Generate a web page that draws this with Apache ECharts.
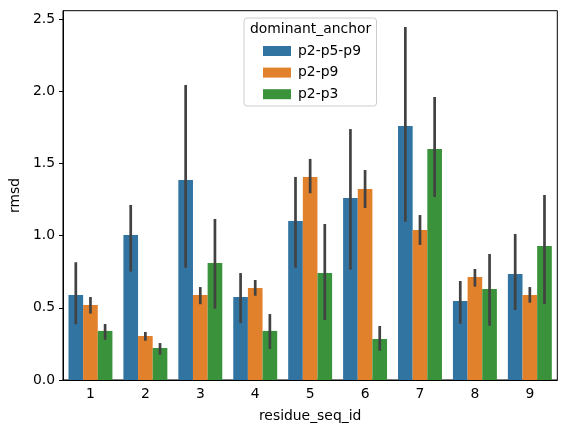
<!DOCTYPE html>
<html><head><meta charset="utf-8">
<script src="https://cdn.jsdelivr.net/npm/echarts@6/dist/echarts.min.js"></script>
<style>html,body{margin:0;padding:0;background:#fff}#c{width:567px;height:433px}</style>
</head><body><div id="c"></div>
<script>
const categories = ['1','2','3','4','5','6','7','8','9'];
const hueNames = ['p2-p5-p9','p2-p9','p2-p3'];
const blueVals   = [0.589, 1.005, 1.386, 0.575, 1.102, 1.261, 1.760, 0.547, 0.735];
const orangeVals = [0.520, 0.305, 0.589, 0.638, 1.407, 1.324, 1.040, 0.714, 0.589];
const greenVals  = [0.340, 0.222, 0.811, 0.340, 0.741, 0.284, 1.601, 0.631, 0.929];
const blueLo   = [0.386, 0.751, 0.778, 0.395, 0.778, 0.765, 1.097, 0.390, 0.485];
const blueHi   = [0.816, 1.213, 2.044, 0.741, 1.407, 1.739, 2.446, 0.686, 1.012];
const orangeLo = [0.460, 0.272, 0.525, 0.584, 1.294, 1.192, 0.936, 0.647, 0.536];
const orangeHi = [0.575, 0.333, 0.644, 0.693, 1.532, 1.455, 1.143, 0.769, 0.644];
const greenLo  = [0.279, 0.175, 0.494, 0.215, 0.416, 0.203, 1.268, 0.376, 0.527];
const greenHi  = [0.388, 0.256, 1.116, 0.457, 1.081, 0.374, 1.961, 0.873, 1.282];
const yTicks = [0, 0.5, 1.0, 1.5, 2.0, 2.5];

const colors = ['#3274a1', '#e1812c', '#3a923a'];
const vals = [blueVals, orangeVals, greenVals];
const los = [blueLo, orangeLo, greenLo];
const his = [blueHi, orangeHi, greenHi];
const FONT = 'DejaVu Sans';

const chart = echarts.init(document.getElementById('c'), null, {renderer: 'canvas'});
const series = [];
for (let k = 0; k < 3; k++) {
  series.push({
    name: hueNames[k], type: 'bar', data: vals[k],
    barWidth: '26.667%', barGap: '0%',
    itemStyle: {color: colors[k]}, z: 2
  });
}
for (let k = 0; k < 3; k++) {
  series.push({
    type: 'custom', name: 'err' + k, z: 5,
    data: categories.map((c, i) => [i, los[k][i], his[k][i]]),
    encode: {x: 0, y: [1, 2]},
    renderItem: function (params, api) {
      const xi = api.value(0);
      const lo = api.coord([xi, api.value(1)]);
      const hi = api.coord([xi, api.value(2)]);
      const band = api.size([1, 0])[0];
      const bw = band * 0.8 / 3;
      const off = (k - 1) * bw;
      return {type: 'line', shape: {x1: lo[0] + off, y1: lo[1], x2: hi[0] + off, y2: hi[1]},
              style: {stroke: '#424242', lineWidth: 2.7}};
    }
  });
}

chart.setOption({
  animation: false,
  grid: {left: 61.5, right: 9.7, top: 10.7, bottom: 53, show: true, borderColor: '#000', borderWidth: 1, backgroundColor: 'transparent'},
  xAxis: {
    type: 'category', data: categories,
    name: 'residue_seq_id', nameLocation: 'middle', nameGap: 29,
    nameTextStyle: {fontFamily: FONT, fontSize: 13.9, color: '#000'},
    axisLine: {lineStyle: {color: '#000', width: 1}},
    axisTick: {alignWithLabel: true, inside: false, length: 4, lineStyle: {color: '#000'}},
    axisLabel: {fontFamily: FONT, fontSize: 13.9, color: '#000', margin: 7},
    splitLine: {show: false}
  },
  yAxis: {
    type: 'value', min: 0, max: 2.559, interval: 0.5,
    name: 'rmsd', nameLocation: 'middle', nameGap: 36,
    nameTextStyle: {fontFamily: FONT, fontSize: 13.9, color: '#000'},
    axisLine: {show: true, lineStyle: {color: '#000', width: 1}},
    axisTick: {show: true, inside: false, length: 4, lineStyle: {color: '#000'},
      customValues: yTicks},
    axisLabel: {fontFamily: FONT, fontSize: 13.9, color: '#000', margin: 8,
      customValues: yTicks,
      formatter: v => v.toFixed(1)},
    splitLine: {show: false}
  },
  legend: {
    data: hueNames, orient: 'vertical', left: 258, top: 39,
    itemWidth: 28, itemHeight: 10, itemGap: 7.6, icon: 'rect',
    textStyle: {fontFamily: FONT, fontSize: 13.9, color: '#000', padding: [0, 0, 0, 2]},
    selectedMode: false
  },
  graphic: [
    {type: 'rect', left: 243.5, top: 17.5, z: 0,
     shape: {width: 132.5, height: 88, r: 3},
     style: {fill: 'rgba(255,255,255,0.8)', stroke: '#cccccc', lineWidth: 1}},
    {type: 'text', left: 250, top: 22, z: 10,
     style: {text: 'dominant_anchor', font: '13.9px "DejaVu Sans"', fill: '#000'}}
  ],
  series: series
});
</script></body></html>
